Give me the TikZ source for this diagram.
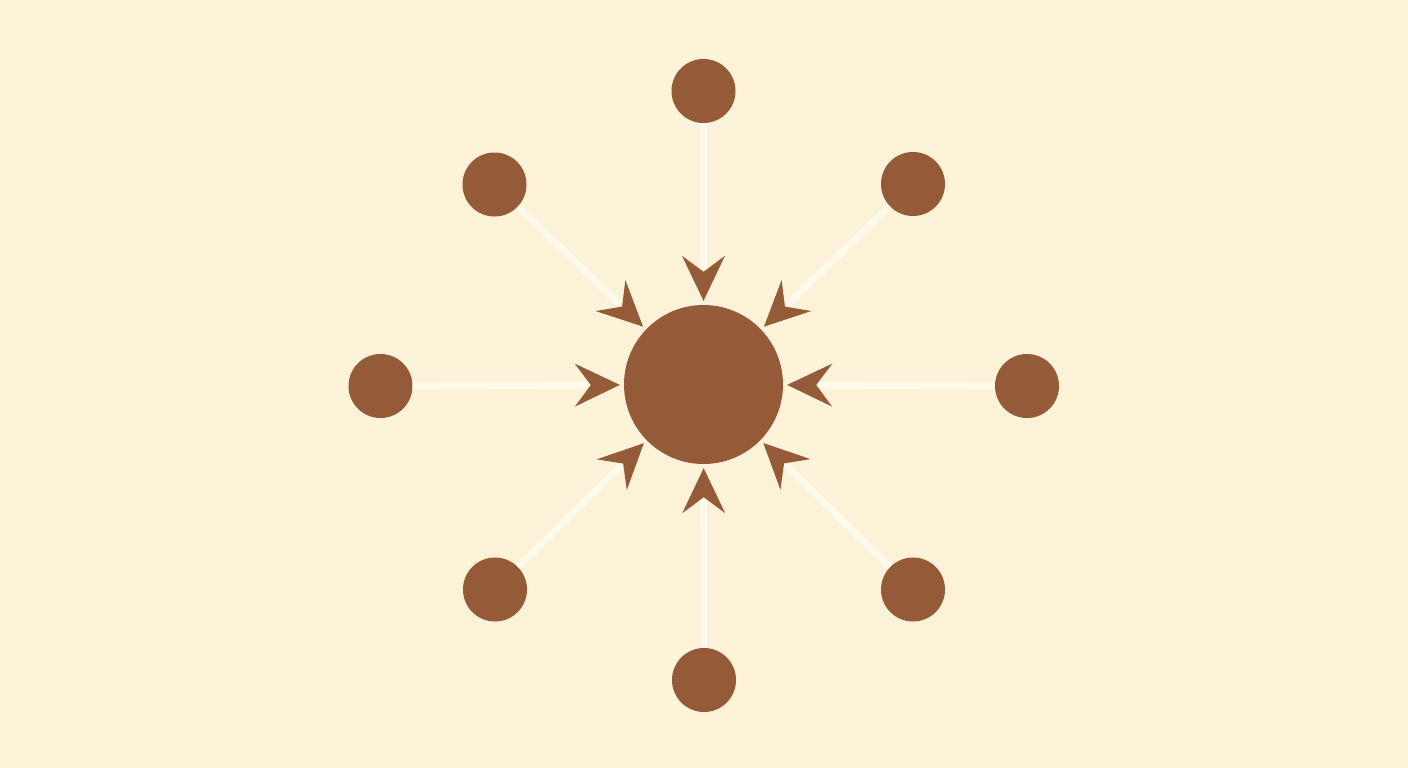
\documentclass[tikz,border=0pt]{standalone}
\usetikzlibrary{arrows.meta}
\definecolor{bgc}{HTML}{FCF2D8}
\definecolor{brn}{HTML}{955A38}
\definecolor{lnc}{HTML}{FEFAEA}
\tikzset{
  hub/.style={circle, fill=brn, draw=none, inner sep=0pt, minimum size=159pt},
  leaf/.style={circle, fill=brn, draw=none, inner sep=0pt, minimum size=64pt},
  spoke/.style={draw=lnc, line width=7pt, shorten >=4pt,
    -{Stealth[length=45pt, width=43pt, inset=16pt, color=brn, line width=0pt]}}
}
\begin{document}
\begin{tikzpicture}[x=1pt,y=-1pt]
\fill[bgc] (0,0) rectangle (1408,768);
\useasboundingbox (0,0) rectangle (1408,768);
\node[hub] (c) at (703.5,384.5) {};
\node[leaf] (n) at (703.5,91) {};
\node[leaf] (ne) at (913,184) {};
\node[leaf] (e) at (1027,386) {};
\node[leaf] (se) at (913,589.5) {};
\node[leaf] (s) at (704,680) {};
\node[leaf] (sw) at (495,589.5) {};
\node[leaf] (w) at (380.5,386) {};
\node[leaf] (nw) at (494.5,184.5) {};
\foreach \o in {n,ne,e,se,s,sw,w,nw}{
  \draw[spoke] (\o) -- (c);
}
\end{tikzpicture}
\end{document}
